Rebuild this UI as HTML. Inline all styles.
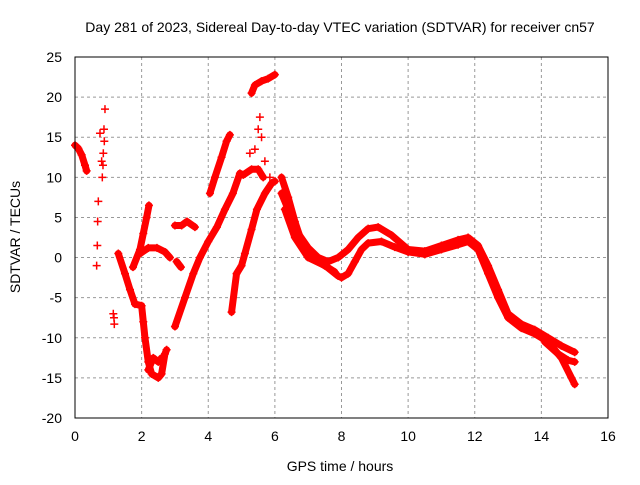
<!DOCTYPE html>
<html><head><meta charset="utf-8"><style>
body{margin:0;background:#fff}
svg{font-family:"Liberation Sans",sans-serif}
</style></head><body>
<svg id="chart" width="640" height="480">
<rect width="640" height="480" fill="#fff"/>
<text x="340" y="32" font-size="14" text-anchor="middle">Day 281 of 2023, Sidereal Day-to-day VTEC variation (SDTVAR) for receiver cn57</text>
<text x="340" y="471" font-size="14" text-anchor="middle">GPS time / hours</text>
<text transform="translate(20,237) rotate(-90)" font-size="14" text-anchor="middle">SDTVAR / TECUs</text>
<g id="grid"></g><g id="ticks"></g><g id="series"></g>
<rect x="75" y="57" width="533" height="361" fill="none" stroke="#000" stroke-width="1"/>
</svg>
<script>
const xTicks=[0,2,4,6,8,10,12,14,16];
const yTicks=[-20,-15,-10,-5,0,5,10,15,20,25];
const s1=[[0,14],[0.1,13.6],[0.2,12.8],[0.3,11.5],[0.35,10.8]];
const s2=[[0.65,-1],[0.67,1.5],[0.68,4.5],[0.7,7],[0.75,15.5],[0.8,12],[0.82,10],[0.85,13],[0.87,16],[0.9,18.5],[0.88,14.5],[0.84,11.5]];
const s3=[[1.15,-7],[1.17,-7.5],[1.18,-8.3]];
const s4=[[1.3,0.5],[1.5,-2],[1.65,-4],[1.8,-5.8],[2.0,-6],[2.05,-8],[2.1,-10],[2.2,-13],[2.3,-14.5],[2.5,-15],[2.6,-14.5],[2.7,-12],[2.75,-11.5]];
const s4b=[[2.2,-14],[2.35,-12.5],[2.5,-13],[2.6,-12.5]];
const s5=[[1.74,-1.2],[1.95,1],[2.05,3],[2.15,5],[2.22,6.5]];
const s5b=[[1.95,0.5],[2.2,1.2],[2.46,1.2],[2.7,0.7],[2.85,0]];
const s5c=[[3.05,-0.5],[3.18,-1.2]];
const s5d=[[3.0,4.0],[3.2,4.0],[3.36,4.5],[3.6,3.8]];
const s6=[[3.0,-8.6],[3.3,-5],[3.55,-2],[3.75,0],[4.0,2],[4.26,3.8],[4.5,6],[4.74,8],[4.95,10.5],[5.05,10.3],[5.3,11],[5.5,11],[5.65,10]];
const s7=[[4.05,8],[4.2,10],[4.4,12.5],[4.55,14.5],[4.65,15.3]];
const s8=[[5.3,20.5],[5.4,21.5],[5.6,22],[5.8,22.3],[6.0,22.8]];
const s9=[[5.25,13],[5.4,13.5],[5.5,16],[5.55,17.5],[5.6,15],[5.7,12],[5.85,10]];
const s10=[[4.7,-6.8],[4.85,-2],[5.0,-1],[5.1,0.5],[5.3,3.5],[5.46,6],[5.7,8],[5.91,9.3],[6.0,9.5]];
const sA=[[6.2,10],[6.4,7.5],[6.6,4.5],[6.8,2],[7.0,0.5],[7.3,-0.5],[7.6,-1.3],[7.9,-2.3],[8.0,-2.5],[8.2,-2],[8.4,-0.5],[8.6,1],[8.8,1.8],[9.2,2],[9.6,1.3],[10,0.7],[10.5,0.4],[11,1],[11.5,1.6],[11.8,2],[12.1,1],[12.4,-2],[12.7,-5],[13,-7.5],[13.4,-8.8],[13.8,-9.5],[14.2,-10.5],[14.6,-12.5],[15,-15.8]];
const sB=[[6.2,8],[6.4,6],[6.7,3],[7.0,1.2],[7.3,0],[7.6,-0.5],[7.9,0],[8.2,1],[8.5,2.5],[8.8,3.6],[9.1,3.8],[9.5,2.8],[10,1],[10.5,0.8],[11,1.5],[11.5,2.2],[11.8,2.5],[12.1,1.5],[12.4,-1],[12.7,-4],[13,-7],[13.4,-8.3],[13.8,-9],[14.2,-10],[14.6,-11],[15,-11.8]];
const sC=[[6.3,6],[6.6,2.5],[7.0,0],[7.5,-1],[7.8,-1.8]];
const sD=[[14.1,-10.5],[14.5,-12],[14.8,-12.8],[15,-13]];
const lines=[s1,s4,s4b,s5,s5b,s5c,s5d,s6,s7,s8,s10,sA,sB,sC,sD];
const sparse=[s2,s3,s9];
const X=v=>75+v*533/16, Y=v=>418-(v+20)*361/45;
const NS='http://www.w3.org/2000/svg';
const mk=(t,a,p)=>{const e=document.createElementNS(NS,t);for(const k in a)e.setAttribute(k,a[k]);p.appendChild(e);return e;};
const g=document.getElementById('grid'),tk=document.getElementById('ticks'),sr=document.getElementById('series');
xTicks.forEach(t=>{
 if(t>0&&t<16){const l=mk('line',{x1:X(t),x2:X(t),y1:57,y2:418,stroke:'#999','stroke-dasharray':'3,3'},g);
 
 }
 const tx=mk('text',{x:X(t),y:441,'font-size':14,'text-anchor':'middle'},tk);tx.textContent=t;
 
 
});
yTicks.forEach(t=>{
 if(t>-20&&t<25){const l=mk('line',{x1:75,x2:608,y1:Y(t),y2:Y(t),stroke:'#999','stroke-dasharray':'3,3'},g);
 
 }
 const tx=mk('text',{x:62,y:Y(t)+5,'font-size':14,'text-anchor':'end'},tk);tx.textContent=t;
 
 
});
function markers(s,col){s.forEach(p=>{const x=X(p[0]),y=Y(p[1]);
 const m=mk('path',{d:`M${x-4},${y}H${x+4}M${x},${y-4}V${y+4}`,stroke:col,'stroke-width':1.5,fill:'none'},sr);
 
 });}
lines.forEach(s=>{
 const pl=mk('polyline',{points:s.map(p=>X(p[0])+','+Y(p[1])).join(' '),fill:'none',stroke:'#f00','stroke-width':7,'stroke-linejoin':'round','stroke-linecap':'round'},sr);
 
 
 markers(s,'#f00');
});
sparse.forEach(s=>markers(s,'#f00'));
</script>
</body></html>
